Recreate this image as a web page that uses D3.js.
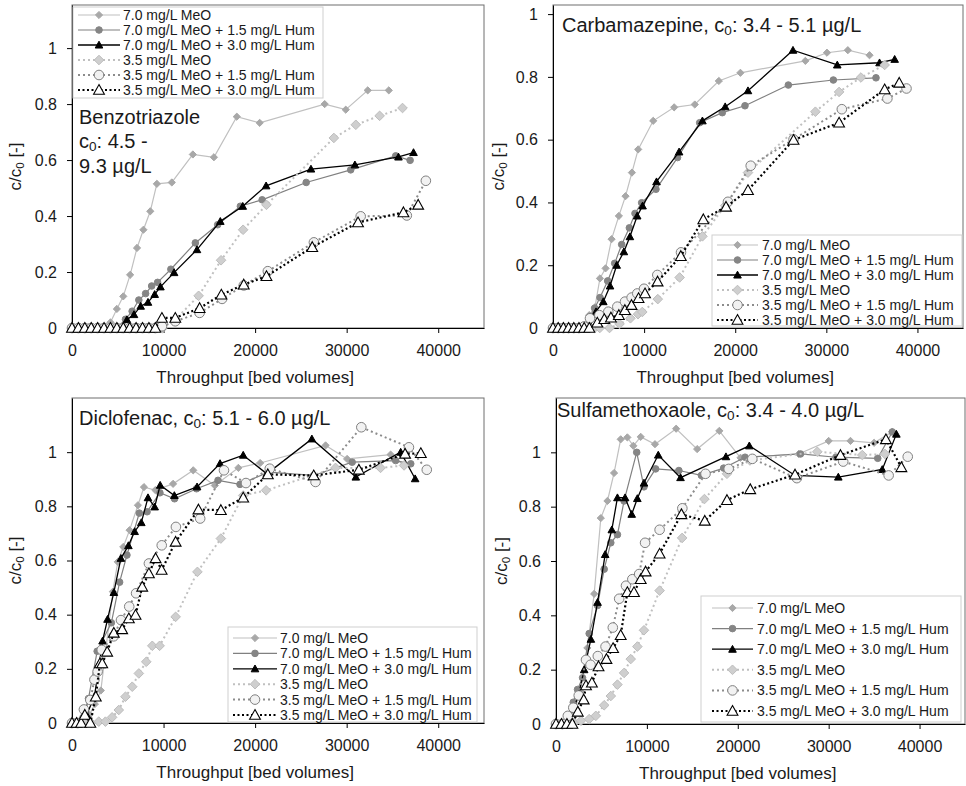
<!DOCTYPE html>
<html>
<head>
<meta charset="utf-8">
<script src="https://cdn.jsdelivr.net/npm/d3@7"></script>
<style>
  body { margin: 0; background: #fff; }
  svg text { font-family: "Liberation Sans", Arial, sans-serif; fill: #1a1a1a; }
</style>
</head>
<body>
<div id="chart"></div>
<script>
// breakthrough curves, [throughput in bed volumes, c/c0]
var seriesNames = ["7.0 mg/L MeO", "7.0 mg/L MeO + 1.5 mg/L Hum", "7.0 mg/L MeO + 3.0 mg/L Hum",
                   "3.5 mg/L MeO", "3.5 mg/L MeO + 1.5 mg/L Hum", "3.5 mg/L MeO + 3.0 mg/L Hum"];
var xTicks = [0, 10000, 20000, 30000, 40000];
var yTicks = [0, 0.2, 0.4, 0.6, 0.8, 1];

// Benzotriazole
var btzMeo70 = [[0,0],[700,0],[1400,0],[2100,0],[2800,0],[3500,0],[4200,0.02],[4900,0.068],[5600,0.113],[6350,0.19],[7100,0.286],[7800,0.351],[8550,0.417],[9270,0.515],[10900,0.52],[13200,0.62],[15500,0.61],[18000,0.755],[20500,0.733],[27600,0.8],[29900,0.78],[32300,0.849],[34600,0.849]];
var btzMeo70Hum15 = [[0,0],[700,0],[1400,0],[2100,0],[2800,0],[3500,0],[4200,0],[4900,0],[5840,0.031],[6570,0.06],[7300,0.1],[8040,0.123],[8700,0.15],[9350,0.163],[10800,0.21],[13470,0.304],[15910,0.369],[18390,0.435],[20770,0.458],[25580,0.52],[30440,0.565],[35360,0.615],[36930,0.599]];
var btzMeo70Hum30 = [[0,0],[750,0],[1500,0],[2250,0],[3000,0],[3750,0],[4500,0],[5250,0],[6000,0.03],[6770,0.048],[7500,0.078],[8300,0.092],[9030,0.12],[9660,0.147],[11150,0.198],[13650,0.28],[16200,0.381],[18650,0.435],[21200,0.508],[26100,0.568],[30900,0.583],[35660,0.611],[37300,0.627]];
var btzMeo35 = [[0,0],[900,0],[1800,0],[2700,0],[3600,0],[4500,0],[5400,0],[6300,0],[7200,0],[8100,0],[9000,0],[9900,0],[11280,0.03],[13830,0.115],[16280,0.242],[18690,0.351],[21240,0.44],[28600,0.679],[31000,0.726],[33600,0.758],[36100,0.786]];
var btzMeo35Hum15 = [[0,0],[700,0],[1400,0],[2100,0],[2800,0],[3500,0],[4200,0],[4900,0],[5600,0],[6300,0],[7000,0],[7700,0],[8400,0],[9100,0],[9820,0.006],[11280,0.024],[13940,0.054],[16390,0.104],[18760,0.152],[21390,0.203],[26420,0.306],[31530,0.399],[36570,0.402],[38650,0.526]];
var btzMeo35Hum30 = [[0,0],[700,0],[1400,0],[2100,0],[2800,0],[3500,0],[4200,0],[4900,0],[5600,0],[6300,0],[7000,0],[7700,0],[8400,0],[9100,0],[9820,0.036],[11280,0.036],[13940,0.071],[16310,0.119],[18760,0.155],[21240,0.185],[26240,0.289],[31240,0.377],[36200,0.413],[37810,0.44]];

// Carbamazepine
var cbzMeo70 = [[0,0],[570,0],[1140,0],[1710,0],[2280,0],[2850,0],[3420,0],[3980,0.041],[4600,0.066],[5150,0.158],[5770,0.19],[6430,0.283],[7230,0.357],[7960,0.42],[8660,0.495],[9350,0.569],[11000,0.66],[13300,0.703],[15560,0.712],[18200,0.787],[20570,0.813],[27700,0.851],[30070,0.877],[32360,0.885],[34740,0.869]];
var cbzMeo70Hum15 = [[0,0],[570,0],[1140,0],[1710,0],[2280,0],[2850,0],[3420,0],[4060,0.036],[4570,0.063],[5160,0.097],[6000,0.15],[6770,0.206],[7540,0.266],[8380,0.319],[9000,0.365],[9730,0.399],[11300,0.442],[13670,0.543],[16100,0.654],[18580,0.686],[21070,0.708],[25830,0.774],[30770,0.79],[35450,0.797]];
var cbzMeo70Hum30 = [[0,0],[570,0],[1140,0],[1710,0],[2280,0],[2850,0],[3420,0],[3990,0],[4720,0.052],[5520,0.084],[6260,0.134],[6990,0.2],[7780,0.243],[8440,0.291],[9240,0.357],[9830,0.389],[11360,0.466],[13840,0.561],[16400,0.66],[18900,0.705],[21400,0.756],[26340,0.885],[31200,0.838],[35840,0.845],[37500,0.856]];
var cbzMeo35 = [[0,0],[570,0],[1140,0],[1710,0],[2280,0],[2850,0],[3420,0],[3990,0],[4560,0],[5130,0],[6200,0],[7300,0.013],[8500,0.031],[9330,0.044],[9800,0.051],[11500,0.092],[13900,0.161],[16400,0.292],[18900,0.39],[21400,0.495],[28800,0.689],[31400,0.752],[33800,0.798],[36400,0.838]];
var cbzMeo35Hum15 = [[0,0],[570,0],[1140,0],[1710,0],[2280,0],[2850,0],[3420,0.005],[4060,0.031],[5090,0.041],[6070,0.052],[7060,0.068],[7900,0.084],[8630,0.097],[9250,0.11],[9990,0.125],[11450,0.169],[14050,0.241],[19200,0.402],[21700,0.517],[26400,0.601],[31700,0.697],[36700,0.731],[38800,0.763]];
var cbzMeo35Hum30 = [[0,0],[570,0],[1140,0],[1710,0],[2280,0],[2850,0],[3420,0],[3990,0],[4860,0.017],[5630,0.028],[6360,0.033],[7230,0.041],[7890,0.057],[8620,0.073],[9390,0.095],[10100,0.11],[11480,0.148],[14030,0.229],[16500,0.346],[18990,0.386],[21400,0.439],[26400,0.599],[31400,0.654],[36400,0.76],[38000,0.781]];

// Diclofenac
var dcfMeo70 = [[0,0],[700,0],[1400,0.01],[1900,0.03],[2500,0.07],[3150,0.12],[4460,0.485],[5000,0.595],[5600,0.65],[6290,0.712],[7200,0.804],[7860,0.871],[9100,0.86],[11040,0.883],[13240,0.933],[15600,0.877],[18170,0.942],[20550,0.96],[27700,1.025],[30050,0.975],[34800,0.991],[36270,0.951]];
var dcfMeo70Hum15 = [[0,0],[600,0],[1200,0.02],[1800,0.09],[2750,0.265],[4300,0.37],[5200,0.52],[6000,0.62],[7350,0.775],[8200,0.78],[9600,0.85],[11200,0.828],[13600,0.865],[15950,0.896],[18350,0.881],[21450,0.926],[26400,0.914],[30600,0.963],[35350,0.969],[37000,0.957]];
var dcfMeo70Hum30 = [[0,0],[800,0],[1600,0.03],[2450,0.098],[3000,0.221],[3340,0.303],[3880,0.383],[4570,0.482],[5340,0.608],[6160,0.655],[6840,0.707],[7570,0.74],[8300,0.832],[9030,0.798],[9630,0.878],[11180,0.84],[13660,0.872],[16170,0.958],[18700,0.989],[21280,0.92],[26200,1.049],[31000,0.908],[35900,1.0],[37480,0.902]];
var dcfMeo35 = [[0,0],[700,0],[1400,0],[2100,0],[2920,0.005],[3650,0.005],[4380,0.021],[5110,0.048],[5840,0.097],[6580,0.134],[7300,0.183],[8110,0.226],[8770,0.285],[9570,0.285],[11320,0.392],[13700,0.558],[16260,0.681],[18700,0.84],[21200,0.859],[28780,0.942],[33700,0.942],[36270,0.951]];
var dcfMeo35Hum15 = [[0,0],[600,0],[1300,0.05],[2000,0.085],[2450,0.16],[2800,0.19],[3250,0.27],[4550,0.32],[5350,0.38],[6250,0.43],[7000,0.479],[8400,0.589],[9800,0.656],[11350,0.724],[14000,0.755],[16600,0.933],[19000,0.886],[21600,0.939],[26600,0.89],[31600,1.092],[36800,1.018],[38750,0.935]];
var dcfMeo35Hum30 = [[0,0],[500,0],[1000,0],[1400,0.03],[2000,0],[2600,0.097],[3050,0.22],[3300,0.22],[3840,0.263],[4570,0.333],[5480,0.346],[6210,0.386],[6940,0.399],[7670,0.503],[8400,0.552],[9130,0.608],[9790,0.565],[11320,0.669],[13810,0.788],[16260,0.786],[18700,0.832],[21390,0.918],[26400,0.914],[31330,0.935],[36380,0.994],[38100,0.996]];

// Sulfamethoxazole
var smxMeo70 = [[0,0],[700,0],[1400,0.01],[2000,0.05],[2700,0.12],[3450,0.28],[4200,0.479],[4930,0.758],[5660,0.821],[6390,0.924],[7120,1.048],[7850,1.055],[8510,1.024],[9320,1.057],[10890,1.03],[13220,1.087],[15530,1.012],[17970,1.079],[20300,0.98],[26700,0.994],[30000,1.042],[32400,1.042],[35000,1.035],[37000,1.076]];
var smxMeo70Hum15 = [[0,0],[700,0],[1300,0.03],[1900,0.08],[2370,0.127],[2920,0.17],[3650,0.333],[4570,0.436],[5300,0.57],[6030,0.667],[6760,0.697],[7490,0.821],[8880,1.0],[9680,0.873],[10960,0.939],[13520,0.933],[16000,0.915],[18450,0.942],[20800,0.982],[26900,0.994],[30800,0.982],[35400,0.978],[37000,1.075]];
var smxMeo70Hum30 = [[0,0],[700,0],[1400,0.02],[2000,0.06],[2500,0.11],[3100,0.2],[3840,0.312],[4570,0.448],[5410,0.624],[6140,0.715],[6760,0.833],[7600,0.833],[8330,0.772],[8950,0.83],[9680,0.887],[11250,0.99],[13700,0.907],[18700,0.984],[21270,1.024],[26300,0.915],[31060,0.909],[35900,0.937],[37450,1.067]];
var smxMeo35 = [[0,0],[700,0],[1400,0],[2000,0.005],[2740,0.012],[3650,0.018],[4380,0.03],[5300,0.069],[6030,0.103],[6760,0.145],[7490,0.188],[8220,0.239],[8950,0.285],[9680,0.345],[11400,0.491],[13880,0.685],[16330,0.828],[18810,0.921],[21340,0.97],[28750,1.002],[33700,0.99],[36200,0.994]];
var smxMeo35Hum15 = [[0,0],[700,0],[1300,0.03],[1900,0.06],[2500,0.105],[3300,0.236],[3800,0.218],[4600,0.25],[5450,0.285],[6250,0.355],[6950,0.461],[7700,0.509],[8400,0.533],[9150,0.552],[9800,0.667],[11400,0.715],[13900,0.794],[16450,0.921],[19000,0.939],[21600,0.976],[26500,0.905],[31600,0.966],[36600,0.915],[38700,0.984]];
var smxMeo35Hum30 = [[0,0],[600,0],[1200,0],[1800,0],[2400,0.045],[3050,0.09],[3300,0.142],[3950,0.152],[4680,0.212],[5550,0.239],[6280,0.279],[7120,0.327],[7850,0.485],[8580,0.485],[9320,0.533],[9860,0.561],[11400,0.627],[13800,0.772],[16370,0.748],[18810,0.824],[21370,0.864],[26300,0.918],[31300,0.99],[36300,1.048],[38000,0.945]];

// marker and line look for the six series
var styles = [
  { line: "#c0c0c0", width: 1.2, dash: null,    shape: "diamond",  r: 3.6, fill: "#a8a8a8", stroke: "#a8a8a8", sw: 1 },
  { line: "#808080", width: 1.2, dash: null,    shape: "circle",   r: 3.3, fill: "#858585", stroke: "#858585", sw: 1 },
  { line: "#000000", width: 1.3, dash: null,    shape: "triangle", r: 3.8, fill: "#000000", stroke: "#000000", sw: 1 },
  { line: "#c0c0c0", width: 2,   dash: "2,3",   shape: "diamond",  r: 4.8, fill: "#cfcfcf", stroke: "#bdbdbd", sw: 1 },
  { line: "#8c8c8c", width: 2,   dash: "2,3",   shape: "circle",   r: 4.8, fill: "#f2f2f2", stroke: "#808080", sw: 1 },
  { line: "#000000", width: 2.2, dash: "2,2.5", shape: "triangle", r: 5.4, fill: "#ffffff", stroke: "#000000", sw: 1.1 }
];

var panels = [
  { series: [btzMeo70, btzMeo70Hum15, btzMeo70Hum30, btzMeo35, btzMeo35Hum15, btzMeo35Hum30],
    ymax: 1.154, box: { l: 72, t: 5, r: 484, b: 328 }, yTitleX: 21,
    title: [[["Benzotriazole"]], [["c"], ["0", 1], [": 4.5 -"]], [["9.3 µg/L"]]],
    titleX: 79, titleY: [124, 148, 173],
    legend: { x: 73, y: 7, w: 250, h: 91, first: 15, step: 15, line: [78, 120], text: 123 } },
  { series: [cbzMeo70, cbzMeo70Hum15, cbzMeo70Hum30, cbzMeo35, cbzMeo35Hum15, cbzMeo35Hum30],
    ymax: 1.029, box: { l: 553, t: 5, r: 963, b: 328 }, yTitleX: 504,
    title: [[["Carbamazepine, c"], ["0", 1], [": 3.4 - 5.1 µg/L"]]],
    titleX: 562, titleY: [32],
    legend: { x: 712, y: 235, w: 250, h: 91, first: 245, step: 15, line: [717, 758], text: 762 } },
  { series: [dcfMeo70, dcfMeo70Hum15, dcfMeo70Hum30, dcfMeo35, dcfMeo35Hum15, dcfMeo35Hum30],
    ymax: 1.2, box: { l: 72, t: 398, r: 484, b: 723 }, yTitleX: 21,
    title: [[["Diclofenac, c"], ["0", 1], [": 5.1 - 6.0 µg/L"]]],
    titleX: 79, titleY: [425],
    legend: { x: 228, y: 627, w: 249, h: 95, first: 638, step: 15.4, line: [233, 277], text: 280 } },
  { series: [smxMeo70, smxMeo70Hum15, smxMeo70Hum30, smxMeo35, smxMeo35Hum15, smxMeo35Hum30],
    ymax: 1.2, box: { l: 556, t: 398, r: 965, b: 724 }, yTitleX: 507,
    title: [[["Sulfamethoxaole, c"], ["0", 1], [": 3.4 - 4.0 µg/L"]]],
    titleX: 557, titleY: [417],
    legend: { x: 701, y: 596, w: 260, h: 126, first: 608, step: 20.6, line: [712, 753], text: 757 } }
];

var svg = d3.select("#chart").append("svg")
  .attr("width", 966)
  .attr("height", 786);

function markerPath(shape, r) {
  if (shape === "diamond") return "M0," + (-r) + "L" + r + ",0L0," + r + "L" + (-r) + ",0Z";
  if (shape === "circle") return d3.symbol(d3.symbolCircle, Math.PI * r * r)();
  return "M0," + (-r) + "L" + r + "," + (r * 0.8) + "L" + (-r) + "," + (r * 0.8) + "Z";
}

// text with a subscript part: parts = [[text], [text, isSub], ...]
function richText(sel, parts) {
  var sub = false;
  parts.forEach(function(p) {
    var t = sel.append("tspan").text(p[0]);
    if (p[1] && !sub) { t.attr("font-size", "0.68em").attr("dy", "0.25em"); sub = true; }
    else if (!p[1] && sub) { t.attr("dy", "-0.17em"); sub = false; }
  });
}

panels.forEach(function(p) {
  var g = svg.append("g");
  var x = d3.scaleLinear().domain([0, 45000]).range([p.box.l, p.box.r]);
  var y = d3.scaleLinear().domain([0, p.ymax]).range([p.box.b, p.box.t]);

  g.append("rect")
    .attr("x", p.box.l).attr("y", p.box.t)
    .attr("width", p.box.r - p.box.l).attr("height", p.box.b - p.box.t)
    .attr("fill", "none").attr("stroke", "#6e6e6e").attr("stroke-width", 1);

  var xAxis = g.append("g")
    .attr("transform", "translate(0," + p.box.b + ")")
    .call(d3.axisBottom(x).tickValues(xTicks).tickFormat(d3.format("d")).tickSize(5).tickSizeOuter(0).tickPadding(12));
  var yAxis = g.append("g")
    .attr("transform", "translate(" + p.box.l + ",0)")
    .call(d3.axisLeft(y).tickValues(yTicks).tickFormat(d3.format("~g")).tickSize(5).tickSizeOuter(0).tickPadding(10));
  [xAxis, yAxis].forEach(function(a) {
    a.selectAll("text").attr("font-size", 16).attr("font-family", null);
    a.selectAll("path, line").attr("stroke", "#000");
  });

  g.append("text")
    .attr("x", x(20000)).attr("y", p.box.b + 55)
    .attr("text-anchor", "middle").attr("font-size", 17)
    .text("Throughput [bed volumes]");

  var yt = g.append("text")
    .attr("transform", "translate(" + p.yTitleX + "," + ((p.box.t + p.box.b) / 2) + ") rotate(-90)")
    .attr("text-anchor", "middle").attr("font-size", 17);
  richText(yt, [["c/c"], ["0", 1], [" [-]"]]);

  var line = d3.line().x(function(d) { return x(d[0]); }).y(function(d) { return y(d[1]); });

  p.series.forEach(function(data, i) {
    var s = styles[i];
    g.append("path")
      .datum(data)
      .attr("d", line)
      .attr("fill", "none")
      .attr("stroke", s.line)
      .attr("stroke-width", s.width)
      .attr("stroke-dasharray", s.dash);
    g.selectAll(".m" + i)
      .data(data)
      .enter()
      .append("path")
      .attr("class", "m" + i)
      .attr("transform", function(d) { return "translate(" + x(d[0]) + "," + y(d[1]) + ")"; })
      .attr("d", markerPath(s.shape, s.r))
      .attr("fill", s.fill)
      .attr("stroke", s.stroke)
      .attr("stroke-width", s.sw);
  });

  // legend box
  var L = p.legend;
  g.append("rect")
    .attr("x", L.x).attr("y", L.y).attr("width", L.w).attr("height", L.h)
    .attr("fill", "#fff").attr("stroke", "#cfcfcf");
  seriesNames.forEach(function(name, i) {
    var s = styles[i], ry = L.first + i * L.step;
    g.append("line")
      .attr("x1", L.line[0]).attr("x2", L.line[1]).attr("y1", ry).attr("y2", ry)
      .attr("stroke", s.line).attr("stroke-width", s.width).attr("stroke-dasharray", s.dash);
    g.append("path")
      .attr("transform", "translate(" + ((L.line[0] + L.line[1]) / 2) + "," + ry + ")")
      .attr("d", markerPath(s.shape, s.r))
      .attr("fill", s.fill).attr("stroke", s.stroke).attr("stroke-width", s.sw);
    g.append("text")
      .attr("x", L.text).attr("y", ry).attr("dy", "0.35em")
      .attr("font-size", 14)
      .text(name);
  });

  p.title.forEach(function(parts, k) {
    var t = g.append("text")
      .attr("x", p.titleX).attr("y", p.titleY[k])
      .attr("font-size", 20);
    richText(t, parts);
  });
});
</script>
</body>
</html>
